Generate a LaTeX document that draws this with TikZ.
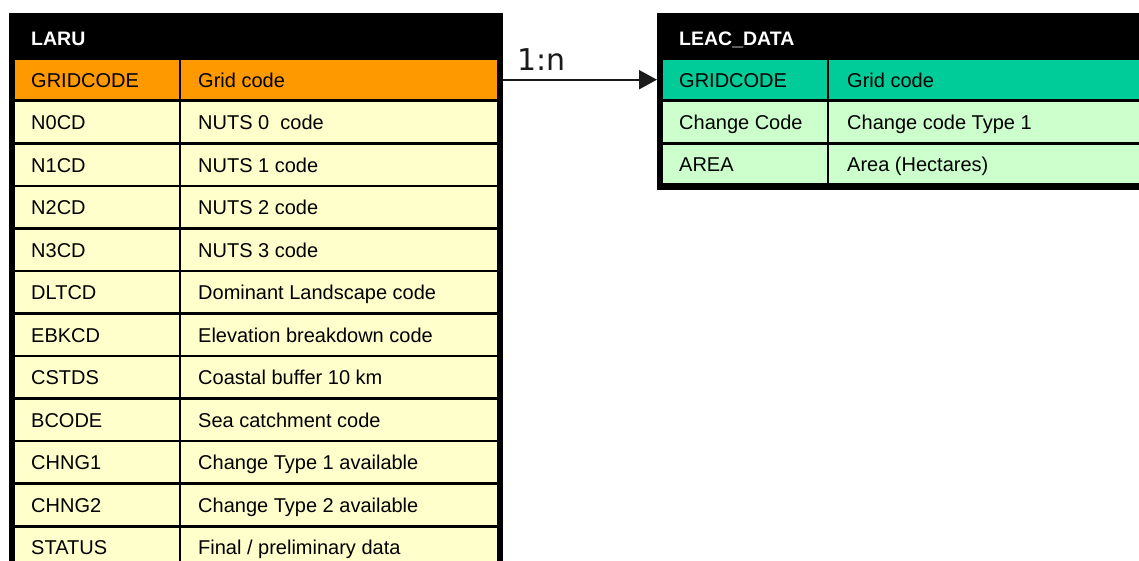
\documentclass[tikz,border=0pt]{standalone}
\usepackage{fontspec}
\setmainfont{Liberation Sans}
\newfontfamily\cardfont{DejaVu Sans}
\usetikzlibrary{arrows.meta}
\definecolor{hdrorange}{HTML}{FF9900}
\definecolor{rowyellow}{HTML}{FFFFCC}
\definecolor{hdrteal}{HTML}{00CC99}
\definecolor{rowgreen}{HTML}{CCFFCC}
\definecolor{inkdark}{HTML}{1A1A1A}
\tikzset{
  framebox/.style={fill=black, draw=none, inner sep=0pt, outer sep=0pt, anchor=north west},
  cellbox/.style={draw=none, inner sep=0pt, outer sep=0pt, anchor=north west},
  celltxt/.style={anchor=base west, inner sep=0pt, font=\fontsize{20}{24}\selectfont, text=black},
  headtxt/.style={anchor=base west, inner sep=0pt, font=\bfseries\fontsize{19.5}{24}\selectfont, text=white},
  relarrow/.style={draw=inkdark, line width=2pt, -{Triangle[length=18pt,width=19pt]}},
  cardtxt/.style={anchor=base west, inner sep=0pt, font=\cardfont\fontsize{30}{36}\selectfont, text=inkdark}
}
% #1 name, #2 x, #3 y (top), #4 width, #5 height, #6 fill, #7 text, #8 text x
\newcommand\tblcell[8]{%
  \node[cellbox, fill=#6, minimum width=#4pt, minimum height=#5pt] (#1) at (#2,#3) {};
  \node[celltxt] (#1t) at (#8,{#3+#5/2+7.5}) {#7};
}
\begin{document}
\begin{tikzpicture}[x=1pt,y=-1pt]
\useasboundingbox (0,0) rectangle (1139,560);
\clip (0,0) rectangle (1139,560);
% ---------- LARU ----------
\node[framebox, minimum width=494pt, minimum height=580pt] (laru) at (9,13) {};
\node[headtxt] (laruhead) at (31,45) {LARU};
\tblcell{lgrid}{15}{60}{164}{39.4}{hdrorange}{GRIDCODE}{31}
\tblcell{lgridd}{181}{60}{316}{39.4}{hdrorange}{Grid code}{198}
\foreach [count=\k] \a/\b in {N0CD/NUTS 0\ \ code, N1CD/NUTS 1 code, N2CD/NUTS 2 code, N3CD/NUTS 3 code, DLTCD/Dominant Landscape code, EBKCD/Elevation breakdown code, CSTDS/Coastal buffer 10 km, BCODE/Sea catchment code, CHNG1/Change Type 1 available, CHNG2/Change Type 2 available, STATUS/{Final / preliminary data}}{
  \pgfmathsetmacro\rtop{100.7+42.55*(\k-1)+1.3}
  \tblcell{lc\k}{15}{\rtop}{164}{39.95}{rowyellow}{\a}{31}
  \tblcell{ld\k}{181}{\rtop}{316}{39.95}{rowyellow}{\b}{198}
}
% ---------- LEAC_DATA ----------
\node[framebox, minimum width=500pt, minimum height=177pt] (leac) at (657,13) {};
\node[headtxt] (leachead) at (679,45) {LEAC\_DATA};
\tblcell{rgrid}{663}{60}{164}{39.4}{hdrteal}{GRIDCODE}{679}
\tblcell{rgridd}{829}{60}{330}{39.4}{hdrteal}{Grid code}{847}
\tblcell{rchg}{663}{102}{164}{40}{rowgreen}{Change Code}{679}
\tblcell{rchgd}{829}{102}{330}{40}{rowgreen}{Change code Type 1}{847}
\tblcell{rarea}{663}{144.6}{164}{38.7}{rowgreen}{AREA}{679}
\tblcell{raread}{829}{144.6}{330}{38.7}{rowgreen}{Area (Hectares)}{847}
% ---------- relation ----------
\draw[relarrow] (lgridd.east -| laru.east) -- (rgrid.west -| leac.west);
\node[cardtxt] (card) at (517,70) {1:n};
\end{tikzpicture}
\end{document}
